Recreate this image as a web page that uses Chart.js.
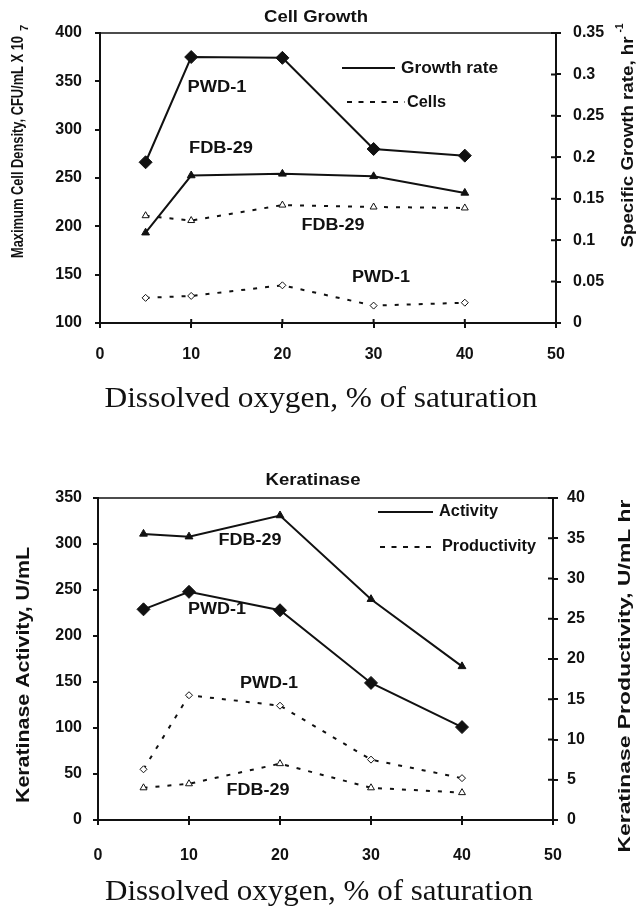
<!DOCTYPE html>
<html>
<head>
<meta charset="utf-8">
<title>Cell growth and keratinase vs dissolved oxygen</title>
<script src="https://cdn.jsdelivr.net/npm/chart.js@4.4.1/dist/chart.umd.min.js"></script>
<style>
  html, body { margin: 0; padding: 0; background: #fff; }
  #wrap { position: relative; width: 641px; height: 907px; }
  canvas { position: absolute; left: 0; display: block; }
  #growth { top: 0; }
  #keratinase { top: 440px; }
</style>
</head>
<body>
<div id="wrap">
  <canvas id="growth" width="641" height="440"></canvas>
  <canvas id="keratinase" width="641" height="467"></canvas>
</div>
<script>
// Dissolved oxygen, % of saturation
const oxygen = [5, 10, 20, 30, 40];
const oxygenTicks = [0, 10, 20, 30, 40, 50];

// Cell growth panel
const growthRatePWD1 = [0.194, 0.321, 0.320, 0.210, 0.202];   // hr-1, right axis
const growthRateFDB29 = [0.109, 0.178, 0.180, 0.177, 0.157];  // hr-1, right axis
const cellsFDB29 = [211, 206, 222, 220, 219];                 // CFU/mL x 10^7, left axis
const cellsPWD1 = [126, 128, 139, 118, 121];                  // CFU/mL x 10^7, left axis
const cellTicks = [100, 150, 200, 250, 300, 350, 400];
const growthTicks = [0, 0.05, 0.1, 0.15, 0.2, 0.25, 0.3, 0.35];

// Keratinase panel
const activityFDB29 = [311, 308, 331, 240, 167];              // U/mL, left axis
const activityPWD1 = [229, 248, 228, 149, 101];               // U/mL, left axis
const productivityPWD1 = [6.3, 15.5, 14.2, 7.5, 5.2];         // U/mL hr, right axis
const productivityFDB29 = [4.0, 4.5, 7.0, 4.0, 3.4];          // U/mL hr, right axis
const activityTicks = [0, 50, 100, 150, 200, 250, 300, 350];
const productivityTicks = [0, 5, 10, 15, 20, 25, 30, 35, 40];

const SANS = "'Liberation Sans', Arial, Helvetica, sans-serif";
const SERIF = "'Liberation Serif', 'Times New Roman', serif";
const INK = '#111';
const UP = -Math.PI / 2;

const tickFont = { family: SANS, size: 16, weight: 'bold' };

// marker / line styles
const solidDiamond = { borderWidth: 2, pointStyle: 'rectRot', pointRadius: 6.5, pointBackgroundColor: INK, pointBorderWidth: 1 };
const solidTriangle = { borderWidth: 2, pointStyle: 'triangle', pointRadius: 4.5, pointBackgroundColor: INK, pointBorderWidth: 1 };
const dottedDiamond = { borderWidth: 2, borderDash: [4, 8], pointStyle: 'rectRot', pointRadius: 3.5, pointBackgroundColor: '#fff', pointBorderWidth: 1 };
const dottedTriangle = { borderWidth: 2, borderDash: [4, 8], pointStyle: 'triangle', pointRadius: 4, pointBackgroundColor: '#fff', pointBorderWidth: 1 };

function series(label, values, axis, style) {
    return Object.assign({
        label: label,
        data: oxygen.map((x, i) => ({ x: x, y: values[i] })),
        yAxisID: axis,
        borderColor: INK,
        pointBorderColor: INK,
        tension: 0,
        fill: false
    }, style);
}

function fixedTicks(values) {
    return scale => { scale.ticks = values.map(v => ({ value: v })); };
}

function yAxis(position, ticks, width, pad) {
    return {
        type: 'linear',
        position: position,
        min: ticks[0],
        max: ticks[ticks.length - 1],
        afterBuildTicks: fixedTicks(ticks),
        afterFit: s => { s.width = width; },
        ticks: { color: INK, font: tickFont, padding: pad, autoSkip: false, callback: v => String(v) },
        grid: { drawOnChartArea: false, drawTicks: true, tickLength: 5, lineWidth: 2, color: INK },
        border: { display: true, width: 2, color: INK }
    };
}

function xAxis(height, pad) {
    return {
        type: 'linear',
        min: oxygenTicks[0],
        max: oxygenTicks[oxygenTicks.length - 1],
        afterBuildTicks: fixedTicks(oxygenTicks),
        afterFit: s => { s.height = height; },
        ticks: { color: INK, font: tickFont, padding: pad, autoSkip: false, maxRotation: 0, callback: v => String(v) },
        grid: { drawOnChartArea: false, drawTicks: true, tickLength: 5, lineWidth: 2, color: INK },
        border: { display: true, width: 2, color: INK }
    };
}

// text drawn straight onto the canvas, squeezed/stretched to a given length
function drawLabel(ctx, t) {
    ctx.save();
    ctx.font = (t.weight || 'bold') + ' ' + t.size + 'px ' + (t.family || SANS);
    ctx.fillStyle = INK;
    ctx.textAlign = 'center';
    ctx.textBaseline = 'middle';
    ctx.translate(t.x, t.y);
    if (t.rot) ctx.rotate(t.rot);
    if (t.width) ctx.scale(t.width / ctx.measureText(t.text).width, 1);
    ctx.fillText(t.text, 0, 0);
    ctx.restore();
}

function figurePlugin(spec) {
    return {
        id: 'figureText',
        afterDraw(chart) {
            const ctx = chart.ctx;
            const a = chart.chartArea;
            ctx.save();
            ctx.strokeStyle = INK;
            // top edge of the plot frame
            ctx.lineWidth = 1.5;
            ctx.beginPath();
            ctx.moveTo(a.left, a.top);
            ctx.lineTo(a.right, a.top);
            ctx.stroke();
            // right-axis and x-axis ticks also poke into the plot
            ctx.lineWidth = 2;
            ctx.beginPath();
            chart.scales.y2.ticks.forEach(t => {
                const py = chart.scales.y2.getPixelForValue(t.value);
                ctx.moveTo(a.right - 5, py);
                ctx.lineTo(a.right, py);
            });
            chart.scales.x.ticks.forEach(t => {
                const px = chart.scales.x.getPixelForValue(t.value);
                ctx.moveTo(px, a.bottom - 4);
                ctx.lineTo(px, a.bottom);
            });
            ctx.stroke();
            // legend keys
            spec.keys.forEach(k => {
                ctx.setLineDash(k.dash || []);
                ctx.beginPath();
                ctx.moveTo(k.x1, k.y);
                ctx.lineTo(k.x2, k.y);
                ctx.stroke();
            });
            ctx.setLineDash([]);
            ctx.restore();
            spec.labels.forEach(t => drawLabel(ctx, t));
        }
    };
}

function makeChart(id, datasets, scales, padTop, spec) {
    return new Chart(document.getElementById(id), {
        type: 'line',
        data: { datasets: datasets },
        options: {
            responsive: false,
            animation: false,
            devicePixelRatio: 1,
            layout: { padding: { top: padTop, left: 0, right: 0, bottom: 0 } },
            plugins: { legend: { display: false }, tooltip: { enabled: false }, title: { display: false } },
            scales: scales
        },
        plugins: [figurePlugin(spec)]
    });
}

// Cell Growth
makeChart('growth', [
    series('Growth rate PWD-1', growthRatePWD1, 'y2', solidDiamond),
    series('Growth rate FDB-29', growthRateFDB29, 'y2', solidTriangle),
    series('Cells FDB-29', cellsFDB29, 'y', dottedTriangle),
    series('Cells PWD-1', cellsPWD1, 'y', dottedDiamond)
], {
    x: xAxis(117, 17),
    y: yAxis('left', cellTicks, 100, 13),
    y2: yAxis('right', growthTicks, 85, 12)
}, 33, {
    keys: [
        { x1: 342, x2: 395, y: 68 },
        { x1: 347, x2: 405, y: 102, dash: [5, 6.5] }
    ],
    labels: [
        { text: 'Cell Growth', x: 316, y: 18, size: 16, width: 104 },
        { text: 'Maximum Cell Density, CFU/mL X 10', x: 19, y: 147, size: 16, width: 222, rot: UP },
        { text: '7', x: 25, y: 28, size: 11, rot: UP },
        { text: 'Specific Growth rate, hr', x: 629, y: 142, size: 16, width: 211, rot: UP },
        { text: '-1', x: 620, y: 28, size: 10, rot: UP },
        { text: 'Growth rate', x: 449.5, y: 68, size: 17, width: 97 },
        { text: 'Cells', x: 426.5, y: 102, size: 17, width: 39 },
        { text: 'PWD-1', x: 217, y: 88, size: 16, width: 59 },
        { text: 'FDB-29', x: 221, y: 149, size: 16, width: 64 },
        { text: 'FDB-29', x: 333, y: 226, size: 16, width: 63 },
        { text: 'PWD-1', x: 381, y: 278, size: 16, width: 58 },
        { text: 'Dissolved oxygen, % of saturation', x: 321, y: 399, size: 30, width: 433, weight: 'normal', family: SERIF }
    ]
});

// Keratinase
makeChart('keratinase', [
    series('Activity FDB-29', activityFDB29, 'y', solidTriangle),
    series('Activity PWD-1', activityPWD1, 'y', solidDiamond),
    series('Productivity PWD-1', productivityPWD1, 'y2', dottedDiamond),
    series('Productivity FDB-29', productivityFDB29, 'y2', dottedTriangle)
], {
    x: xAxis(87, 21),
    y: yAxis('left', activityTicks, 98, 11),
    y2: yAxis('right', productivityTicks, 88, 9)
}, 58, {
    keys: [
        { x1: 378, x2: 433, y: 72 },
        { x1: 380, x2: 437, y: 107, dash: [5, 6.5] }
    ],
    labels: [
        { text: 'Keratinase', x: 313, y: 41, size: 16, width: 95 },
        { text: 'Keratinase Activity, U/mL', x: 24, y: 235, size: 18, width: 256, rot: UP },
        { text: 'Keratinase Productivity, U/mL hr', x: 625, y: 236, size: 17, width: 353, rot: UP },
        { text: 'Activity', x: 468.5, y: 72, size: 16, width: 59 },
        { text: 'Productivity', x: 489, y: 107, size: 16, width: 94 },
        { text: 'FDB-29', x: 250, y: 101, size: 16, width: 63 },
        { text: 'PWD-1', x: 217, y: 170, size: 16, width: 58 },
        { text: 'PWD-1', x: 269, y: 244, size: 16, width: 58 },
        { text: 'FDB-29', x: 258, y: 351, size: 16, width: 63 },
        { text: 'Dissolved oxygen, % of saturation', x: 319, y: 452, size: 30, width: 428, weight: 'normal', family: SERIF }
    ]
});
</script>
</body>
</html>
